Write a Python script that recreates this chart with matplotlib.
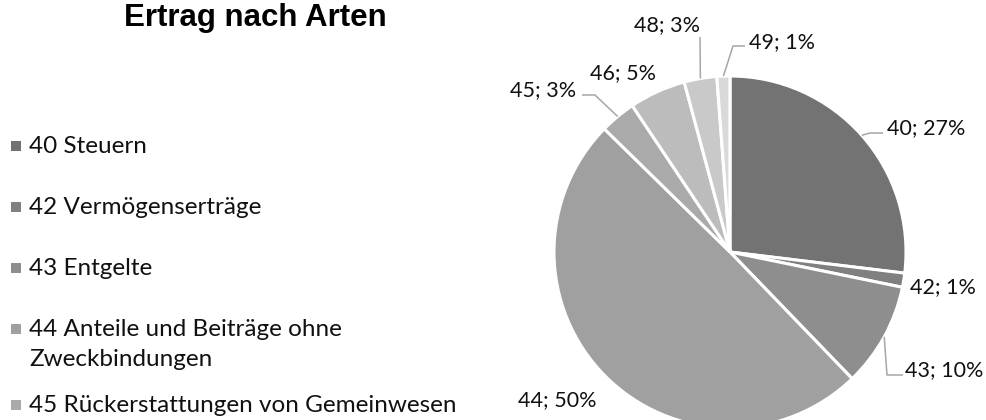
import matplotlib
matplotlib.use("Agg")
import matplotlib.pyplot as plt
import numpy as np
from matplotlib.patches import Rectangle

# ---- data ----
codes = ["40", "42", "43", "44", "45", "46", "48", "49"]
shares = [27.0, 1.3, 9.6, 49.7, 3.3, 5.2, 3.0, 1.2]
legend_labels = [
    "40 Steuern",
    "42 Vermögenserträge",
    "43 Entgelte",
    "44 Anteile und Beiträge ohne\nZweckbindungen",
    "45 Rückerstattungen von Gemeinwesen",
    "46 Beiträge für eigene Rechnung",
    "48 Entnahmen aus Spezialfinanzierungen",
    "49 Interne Verrechnungen",
]
colors = ["#737373", "#808080", "#8e8e8e", "#a0a0a0",
          "#aaaaaa", "#bcbcbc", "#c9c9c9", "#d9d9d9"]
title = "Ertrag nach Arten"

W, H = 987, 420
fig = plt.figure(figsize=(W / 100, H / 100), dpi=100)
ax = fig.add_axes([0, 0, 1, 1])

cx, cy, r = 730, H - 252, 176
wedges, _ = ax.pie(shares, colors=colors, startangle=90, counterclock=False,
                   center=(cx, cy), radius=r,
                   wedgeprops=dict(edgecolor="white", linewidth=2.2))
ax.set_xlim(0, W)
ax.set_ylim(0, H)
ax.set_aspect("auto")
ax.axis("off")

lab_font = dict(family=["Lato", "DejaVu Sans"], size=15.5, color="#111111")
leg_font = dict(family=["Lato", "DejaVu Sans"], size=17.5, color="#111111")

# data labels: (x_left, y_center) in pixels from top-left, leader path (elbow points)
total = sum(shares)
pct = [round(100 * s / total) for s in shares]
label_pos = [(887, 128), (910, 287), (905, 370), (518, 400),
             (510, 90), (590, 73), (634, 25), (749, 42)]
leaders = [[(870, 133), (883, 133)], None, [(887, 375), (903, 375)], None,
           [(595, 95), (582, 95)], None, [(700, 37)], [(733, 46), (745, 46)]]

for w, code, p, (lx, ly), lead in zip(wedges, codes, pct, label_pos, leaders):
    ax.text(lx, H - ly, f"{code}; {p}%", ha="left", va="center", **lab_font)
    if lead:
        mid = np.deg2rad((w.theta1 + w.theta2) / 2)
        sx, sy = cx + r * np.cos(mid), cy + r * np.sin(mid)
        xs = [sx] + [q[0] for q in lead]
        ys = [sy] + [H - q[1] for q in lead]
        ax.plot(xs, ys, color="#a6a6a6", lw=1.1, solid_capstyle="butt")

# title
ax.text(255, H - 18, title, ha="center", va="center",
        family=["Liberation Sans Narrow", "Liberation Sans", "DejaVu Sans"],
        weight="bold", size=22.5, color="black")

# legend (manual, Excel-like)
y = 146
for lab, col in zip(legend_labels, colors):
    if y > H - 5:
        break
    ax.add_patch(Rectangle((11, H - y - 5), 10, 10, facecolor=col, edgecolor="none"))
    ax.text(29, H - y + 10, lab, ha="left", va="top", linespacing=1.55, **leg_font)
    nl = lab.count("\n") + 1
    y += 61 + (nl - 1) * 15

fig.savefig("out.png", dpi=100)
